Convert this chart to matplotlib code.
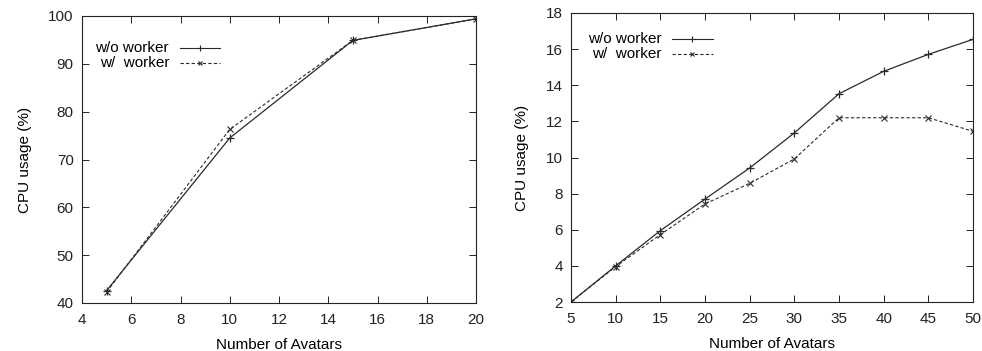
import matplotlib
matplotlib.use("Agg")
import matplotlib.pyplot as plt
from matplotlib.lines import Line2D

plt.rcParams['font.family'] = ['Liberation Sans', 'DejaVu Sans']
plt.rcParams['font.size'] = 11

# Left chart data
left_x = [5, 10, 15, 20]
left_wo = [42.6, 74.5, 94.9, 99.4]
left_w = [42.3, 76.3, 94.9, 99.4]
left_xticks = [4, 6, 8, 10, 12, 14, 16, 18, 20]
left_yticks = [40, 50, 60, 70, 80, 90, 100]

# Right chart data
right_x = [5, 10, 15, 20, 25, 30, 35, 40, 45, 50]
right_wo = [2.0, 4.0, 5.95, 7.7, 9.42, 11.36, 13.53, 14.77, 15.71, 16.54]
right_w = [2.0, 3.96, 5.73, 7.43, 8.57, 9.92, 12.2, 12.2, 12.2, 11.45]
right_xticks = [5, 10, 15, 20, 25, 30, 35, 40, 45, 50]
right_yticks = [2, 4, 6, 8, 10, 12, 14, 16, 18]

labels = ["w/o worker", "w/  worker"]
xlabel = "Number of Avatars"
ylabel = "CPU usage (%)"

W, H = 982, 351
fig = plt.figure(figsize=(W / 100, H / 100), dpi=100)

def px_axes(l, r, t, b):
    return fig.add_axes([l / W, (H - b) / H, (r - l) / W, (b - t) / H])

ax1 = px_axes(82, 476, 16, 303)
ax2 = px_axes(571, 973, 13, 302)

col = '#2a2a2a'
dash = (0, (3, 2))

def style(ax, xt, yt):
    ax.set_xticks(xt)
    ax.set_yticks(yt)
    ax.set_xlim(xt[0], xt[-1])
    ax.set_ylim(yt[0], yt[-1])
    ax.tick_params(direction='in', top=True, right=True, length=5, width=0.7,
                   labelsize=11, colors='#222222')
    ax.tick_params(axis='x', pad=7)
    ax.tick_params(axis='y', pad=6)
    for s in ax.spines.values():
        s.set_linewidth(0.8)
        s.set_color('#222222')
    ax.set_xlabel(xlabel, fontsize=11, labelpad=8)
    ax.set_ylabel(ylabel, fontsize=11, labelpad=12)

def legend(ax, tx, l0, l1, y0, y1):
    for lab, y, ls, mk, ms in [(labels[0], y0, '-', '+', 5), (labels[1], y1, dash, 'x', 3.5)]:
        ax.text(tx, y, lab, transform=ax.transAxes, ha='right', va='center', fontsize=11)
        ax.add_line(Line2D([l0, l1], [y, y], transform=ax.transAxes, color=col, lw=0.8, ls=ls))
        ax.add_line(Line2D([(l0 + l1) / 2], [y], transform=ax.transAxes, color=col,
                           marker=mk, markersize=ms, markeredgewidth=0.8, ls='none'))

ax1.plot(left_x, left_wo, color=col, lw=0.9, marker='+', markersize=6, markeredgewidth=0.9)
ax1.plot(left_x, left_w, color=col, lw=0.8, ls=dash, marker='x', markersize=4, markeredgewidth=0.8)
style(ax1, left_xticks, left_yticks)
legend(ax1, 0.221, 0.249, 0.350, 0.888, 0.836)

ax2.plot(right_x, right_wo, color=col, lw=0.9, marker='+', markersize=6, markeredgewidth=0.9)
ax2.plot(right_x, right_w, color=col, lw=0.8, ls=dash, marker='x', markersize=4, markeredgewidth=0.8)
style(ax2, right_xticks, right_yticks)
legend(ax2, 0.226, 0.251, 0.353, 0.910, 0.858)

fig.savefig("out.png", dpi=100)
